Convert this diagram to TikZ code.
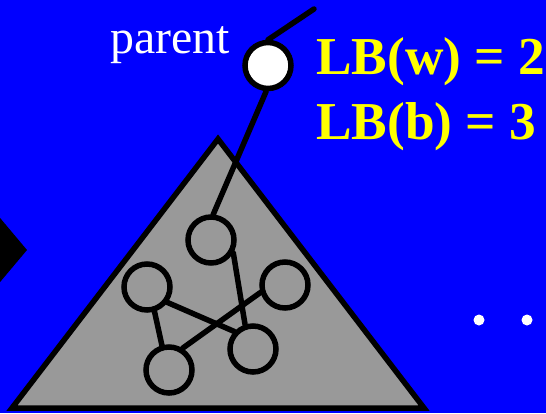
\documentclass[tikz,border=0pt]{standalone}
\usepackage{fontspec}
\setmainfont{Liberation Serif}
\definecolor{bgblue}{RGB}{0,0,255}
\definecolor{tgray}{RGB}{153,153,153}
\definecolor{lbyellow}{RGB}{255,255,0}
\begin{document}
\begin{tikzpicture}[x=1bp,y=-1bp,
  vtx/.style={circle,draw=black,line width=5.5bp,minimum size=46bp,inner sep=0pt},
  edge/.style={draw=black,line width=5.5bp,line cap=round},
  lbl/.style={inner sep=0pt,anchor=base west}]
\useasboundingbox (0,0) rectangle (546,413);
\fill[bgblue] (0,0) rectangle (546,413);
\begin{scope}
\clip (0,0) rectangle (546,413);
\fill[black] (-10,206) -- (27,250) -- (-10,294) -- cycle;
\end{scope}
% triangle (subtree)
\filldraw[fill=tgray,draw=black,line width=5.5bp] (218,139) -- (424,408) -- (12,408) -- cycle;
% edge to grandparent
\coordinate (up) at (314,9);
\node[vtx,fill=white] (p) at (268,65.5) {};
\draw[edge] (p.north) -- (up);
% inner vertices
\node[vtx,fill=tgray] (a) at (211,240) {};
\node[vtx,fill=tgray] (b) at (147,287) {};
\node[vtx,fill=tgray] (c) at (285,285) {};
\node[vtx,fill=tgray] (d) at (169,370) {};
\node[vtx,fill=tgray] (e) at (253,349) {};
\draw[edge] (p.-94) -- (a.85);
\draw[edge] (a.-30) -- (e.108);
\draw[edge] (b.-37) -- (e.137);
\draw[edge] (b.-73) -- (d.106);
\draw[edge] (c.197) -- (d.58);
% texts
\node[lbl,text=white,font=\fontsize{48}{48}\selectfont] (ptxt) at (110,53) {parent};
\node[lbl,text=lbyellow,font=\fontsize{53.5}{53.5}\selectfont\bfseries] (lbw) at (316,74) {LB(w) = 2};
\node[lbl,text=lbyellow,font=\fontsize{53.5}{53.5}\selectfont\bfseries] (lbb) at (316,139) {LB(b) = 3};
% dots
\fill[white] (479,320) circle (5.5);
\fill[white] (527,320) circle (5.5);
\end{tikzpicture}
\end{document}
